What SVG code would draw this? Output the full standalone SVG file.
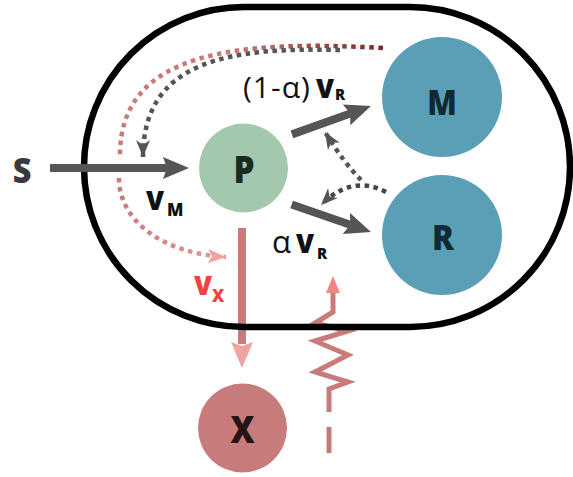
<svg xmlns="http://www.w3.org/2000/svg" xmlns:xlink="http://www.w3.org/1999/xlink" width="573" height="477" viewBox="0 0 573 477">
<style>
.bold{font-family:"Open Sans","DejaVu Sans",sans-serif;font-weight:800}
.reg{font-family:"Open Sans","DejaVu Sans",sans-serif;font-weight:normal}
.dot{fill:none;stroke-width:4.5;stroke-dasharray:4.5 4.5}
.thick{stroke:#555;stroke-width:8}
</style>
<defs>
<linearGradient id="redTop" gradientUnits="userSpaceOnUse" x1="383" y1="0" x2="230" y2="0">
<stop offset="0" stop-color="#7a2626"/>
<stop offset="1" stop-color="#c97b7b"/>
</linearGradient>
<linearGradient id="redLow" gradientUnits="userSpaceOnUse" x1="119" y1="0" x2="226" y2="0">
<stop offset="0" stop-color="#c97b7b"/>
<stop offset="1" stop-color="#e39a9a"/>
</linearGradient>
<marker id="gh" markerUnits="userSpaceOnUse" markerWidth="19" markerHeight="15" refX="17" refY="7" orient="auto">
<path d="M0,0 L17,7 L0,14 L5,7 Z" fill="#555"/>
</marker>
<marker id="ph" markerUnits="userSpaceOnUse" markerWidth="20" markerHeight="15" refX="18" refY="7" orient="auto">
<path d="M0,0 L18,7 L0,14 L4,7 Z" fill="#f0a3a3"/>
</marker>
<path id="bighead" d="M-26,-11 L0,0 L-26,11 L-22,0 Z"/>
</defs>

<g id="connectors">
<g transform="translate(242,368) rotate(90)">
<line x1="-140" y1="0" x2="-24" y2="0" stroke="#c97b7b" stroke-width="8"/>
<use xlink:href="#bighead" fill="#f0a3a3"/>
</g>
<polyline points="333,290 333,312 315,323 348,331 315,341 348,355 315,372 348,382 329,389 329,412" fill="none" stroke="#c97b7b" stroke-width="5" stroke-linejoin="miter"/>
<line x1="329" y1="427" x2="329" y2="453" stroke="#c97b7b" stroke-width="5"/>
<path d="M326,293 L333,276 L340,293 Z" fill="#f28585"/>
</g>

<g id="cell">
<rect x="84" y="7" width="486" height="320" rx="160" ry="160" fill="none" stroke="#000" stroke-width="6.5"/>
</g>

<g id="connectors2">
<path class="dot" d="M383,48 C240,40 120,50 120,155" stroke="url(#redTop)"/>
<path class="dot" d="M119,178 C119,222 165,254 226,257" stroke="url(#redLow)" marker-end="url(#ph)"/>
<path class="dot" d="M340,50 C230,47 143,60 143,157" stroke="#555" marker-end="url(#gh)"/>
<path class="dot" d="M386,192 Q352,174 321,205" stroke="#444" marker-end="url(#gh)"/>
<path class="dot" d="M361,180 Q344,163 325,132" stroke="#555" marker-end="url(#gh)"/>
<g transform="translate(189,168)">
<line class="thick" x1="-139" y1="0" x2="-22" y2="0"/>
<use xlink:href="#bighead" fill="#555"/>
</g>
<g transform="translate(371,106) rotate(-19.75)">
<line class="thick" x1="-84" y1="0" x2="-22" y2="0"/>
<use xlink:href="#bighead" fill="#555"/>
</g>
<g transform="translate(371,232) rotate(19.1)">
<line class="thick" x1="-84" y1="0" x2="-22" y2="0"/>
<use xlink:href="#bighead" fill="#555"/>
</g>
</g>

<g id="node-S">
<text class="bold" transform="translate(22,183) scale(0.9,1)" font-size="36" fill="#3a3a3a" text-anchor="middle">S</text>
</g>
<g id="node-P">
<circle cx="243.5" cy="168" r="44.5" fill="#a3c8ad"/>
<text class="bold" transform="translate(244,183) scale(0.9,1)" font-size="37" fill="#1c2b20" text-anchor="middle">P</text>
</g>
<g id="node-M">
<circle cx="442" cy="97" r="60" fill="#5b9fb7"/>
<text class="bold" transform="translate(442,115) scale(0.85,1)" font-size="36" fill="#0f2a33" text-anchor="middle">M</text>
</g>
<g id="node-R">
<circle cx="442" cy="235" r="60" fill="#5b9fb7"/>
<text class="bold" transform="translate(443,250) scale(0.9,1)" font-size="36" fill="#0f2a33" text-anchor="middle">R</text>
</g>
<g id="node-X">
<circle cx="242.5" cy="428" r="44.5" fill="#c77b7b"/>
<text class="bold" transform="translate(242.5,443) scale(0.9,1)" font-size="37" fill="#231515" text-anchor="middle">X</text>
</g>

<g id="labels">
<text class="reg" x="243" y="98" font-size="30" fill="#111" letter-spacing="1">(1-α)</text>
<text class="bold" x="316" y="98" font-size="26" fill="#111">V</text>
<text class="bold" x="335" y="100" font-size="15" fill="#111">R</text>
<text class="bold" x="146" y="210" font-size="26" fill="#111">V</text>
<text class="bold" x="167" y="216" font-size="17" fill="#111">M</text>
<text class="reg" x="272" y="253" font-size="31" fill="#111">α</text>
<text class="bold" x="296" y="253" font-size="26" fill="#111">V</text>
<text class="bold" x="317" y="259" font-size="15" fill="#111">R</text>
<text class="bold" x="194" y="295" font-size="26" fill="#f04242">V</text>
<text class="bold" x="212" y="302" font-size="17" fill="#f04242">X</text>
</g>
</svg>
